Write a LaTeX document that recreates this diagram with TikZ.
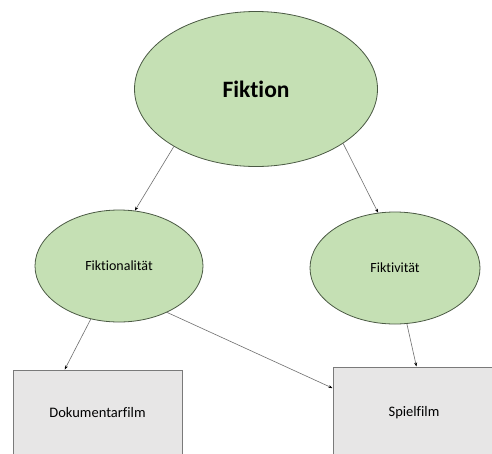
\documentclass[tikz,border=0pt]{standalone}
\usepackage{fontspec}
\setmainfont[Ligatures={NoCommon}]{Carlito}
\usetikzlibrary{shapes.geometric,arrows.meta}
\definecolor{leaf}{HTML}{C5E0B4}
\definecolor{leafline}{HTML}{4B5A44}
\definecolor{boxfill}{HTML}{E7E6E6}
\definecolor{boxline}{HTML}{7A7A7A}
\definecolor{linkline}{HTML}{6F6F6F}
\tikzset{
  concept/.style={ellipse, draw=leafline, fill=leaf, line width=0.8pt, inner sep=0pt, text=black},
  filmbox/.style={rectangle, draw=boxline, fill=boxfill, line width=1pt, inner sep=0pt, text=black},
  link/.style={draw=linkline, line width=0.6pt, -{Stealth[length=4pt,width=3pt,black]}}
}
\begin{document}
\begin{tikzpicture}[x=1pt,y=-1pt]
\useasboundingbox (0,0) rectangle (492,453);
\fill[white] (0,0) rectangle (492,453);
\begin{scope}
\clip (0,0) rectangle (492,453);
\node[concept, minimum width=243pt, minimum height=155pt, font=\bfseries\fontsize{23.5}{26}\selectfont] (fik) at (256,89) {Fiktion};
\node[concept, minimum width=168pt, minimum height=112pt, font=\fontsize{14}{16}\selectfont] (fnl) at (119,266) {Fiktionalität};
\node[concept, minimum width=170pt, minimum height=112pt, font=\fontsize{14}{16}\selectfont] (fkv) at (395,268) {Fiktivität};
\node[filmbox, minimum width=169pt, minimum height=86pt, font=\fontsize{14.5}{17}\selectfont] (doc) at (97.5,413) {Dokumentarfilm\hspace{10pt}};
\node[filmbox, minimum width=162pt, minimum height=92pt, font=\fontsize{14.5}{17}\selectfont] (spf) at (414,413) {Spielfilm};
\draw[link] (fik.{-145}) -- (fnl.{74});
\draw[link] (fik.{-32}) -- (fkv.{107});
\draw[link] (fnl.{-118}) -- (doc.{127});
\draw[link] (fnl.{-44}) -- (spf.{163});
\draw[link] (fkv.{-78}) -- (spf.{87});
\end{scope}
\end{tikzpicture}
\end{document}
